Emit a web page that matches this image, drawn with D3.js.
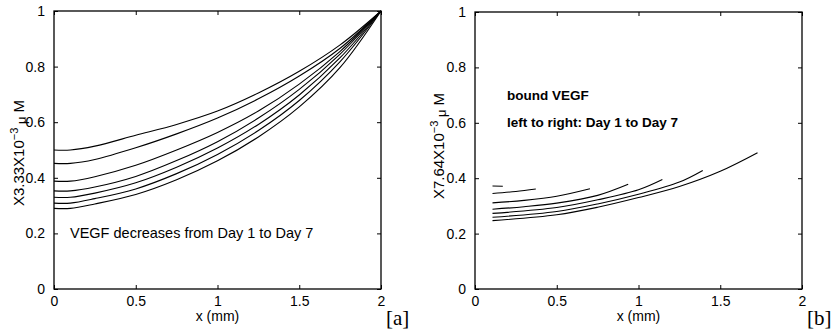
<!DOCTYPE html>
<html>
<head>
<meta charset="utf-8">
<script src="https://cdn.jsdelivr.net/npm/d3@7"></script>
<style>
  body { margin: 0; background: #fff; }
  text { font-family: "Liberation Sans", Arial, sans-serif; fill: #000; }
  .tag { font-family: "Liberation Serif", "DejaVu Serif", serif; }
</style>
</head>
<body>
<div id="chart"></div>
<script>
// ---- data ----
// panel a: free VEGF, Day 1 (top) .. Day 7 (bottom)
var xFree = [0, 0.1, 0.25, 0.5, 0.75, 1, 1.25, 1.5, 1.75, 2];
var freeDay1 = [0.500, 0.500, 0.514, 0.553, 0.592, 0.640, 0.705, 0.783, 0.878, 1];
var freeDay2 = [0.452, 0.452, 0.466, 0.508, 0.558, 0.615, 0.684, 0.766, 0.866, 1];
var freeDay3 = [0.388, 0.388, 0.404, 0.445, 0.500, 0.563, 0.640, 0.737, 0.855, 1];
var freeDay4 = [0.353, 0.353, 0.367, 0.405, 0.462, 0.530, 0.615, 0.718, 0.845, 1];
var freeDay5 = [0.330, 0.330, 0.345, 0.382, 0.438, 0.507, 0.592, 0.698, 0.832, 1];
var freeDay6 = [0.309, 0.309, 0.325, 0.360, 0.415, 0.484, 0.570, 0.678, 0.818, 1];
var freeDay7 = [0.290, 0.290, 0.306, 0.340, 0.393, 0.461, 0.547, 0.655, 0.797, 1];

// panel b: bound VEGF, each day has its own x range
var xBound1 = [0.107, 0.17];
var bound1 = [0.372, 0.371];
var xBound2 = [0.107, 0.25, 0.372];
var bound2 = [0.345, 0.352, 0.361];
var xBound3 = [0.107, 0.3, 0.5, 0.703];
var bound3 = [0.311, 0.320, 0.335, 0.362];
var xBound4 = [0.107, 0.3, 0.5, 0.75, 0.937];
var bound4 = [0.288, 0.297, 0.310, 0.338, 0.378];
var xBound5 = [0.107, 0.5, 0.75, 1, 1.146];
var bound5 = [0.273, 0.294, 0.322, 0.358, 0.395];
var xBound6 = [0.107, 0.5, 0.75, 1, 1.25, 1.393];
var bound6 = [0.259, 0.280, 0.307, 0.342, 0.386, 0.428];
var xBound7 = [0.107, 0.5, 0.75, 1, 1.25, 1.5, 1.728];
var bound7 = [0.247, 0.268, 0.295, 0.330, 0.370, 0.425, 0.492];

var xTicks = [0, 0.5, 1, 1.5, 2];
var yTicks = [0, 0.2, 0.4, 0.6, 0.8, 1];

var width = 832, height = 335;

var svg = d3.select("#chart").append("svg")
  .attr("width", width)
  .attr("height", height);

function zip(xs, ys) {
  return xs.map((x, i) => [x, ys[i]]);
}

function drawPanel(p) {
  var x = d3.scaleLinear().domain([0, 2]).range([p.left, p.right]);
  var y = d3.scaleLinear().domain([0, 1]).range([p.bottom, p.top]);
  var g = svg.append("g");

  // axes, ticks pointing inward, box all round
  g.append("g")
    .attr("class", "axis")
    .attr("transform", "translate(0," + p.bottom + ")")
    .call(d3.axisBottom(x).tickValues(xTicks).tickSizeInner(-4).tickSizeOuter(0)
      .tickPadding(7).tickFormat(d3.format("")));
  g.append("g")
    .attr("class", "axis")
    .attr("transform", "translate(0," + p.top + ")")
    .call(d3.axisTop(x).tickValues(xTicks).tickSizeInner(-4).tickSizeOuter(0).tickFormat(""));
  g.append("g")
    .attr("class", "axis")
    .attr("transform", "translate(" + p.left + ",0)")
    .call(d3.axisLeft(y).tickValues(yTicks).tickSizeInner(-4).tickSizeOuter(0)
      .tickPadding(9).tickFormat(d3.format("")));
  g.append("g")
    .attr("class", "axis")
    .attr("transform", "translate(" + p.right + ",0)")
    .call(d3.axisRight(y).tickValues(yTicks).tickSizeInner(-4).tickSizeOuter(0).tickFormat(""));

  g.selectAll(".axis")
    .attr("font-size", 14)
    .attr("font-family", "Liberation Sans, Arial, sans-serif");
  g.selectAll(".domain").remove();
  g.selectAll(".tick line").attr("stroke", "#000").attr("stroke-width", 1);
  g.selectAll(".tick text").attr("font-size", 14).attr("fill", "#000");

  g.append("rect")
    .attr("x", p.left).attr("y", p.top)
    .attr("width", p.right - p.left).attr("height", p.bottom - p.top)
    .attr("fill", "none").attr("stroke", "#000").attr("stroke-width", 1.3);

  var line = d3.line()
    .x(d => x(d[0]))
    .y(d => y(d[1]))
    .curve(d3.curveCatmullRom.alpha(0.5));

  g.selectAll("path.series")
    .data(p.series)
    .enter()
    .append("path")
    .attr("class", "series")
    .attr("d", line)
    .attr("fill", "none")
    .attr("stroke", "#000")
    .attr("stroke-width", 1.1);

  // x label
  g.append("text")
    .attr("x", (p.left + p.right) / 2)
    .attr("y", 321)
    .attr("text-anchor", "middle")
    .style("font-size", "14px")
    .text("x (mm)");

  // y label, rotated
  var yl = g.append("text")
    .attr("transform", "translate(" + p.ylabX + "," + p.ylabY + ") rotate(-90)")
    .attr("text-anchor", "middle")
    .style("font-size", "15px");
  yl.append("tspan").text(p.ylab);
  yl.append("tspan").attr("dy", -6).style("font-size", "11px").text("\u22123");
  yl.append("tspan").attr("dy", 8).style("font-size", "13px").text(" \u03bc");
  yl.append("tspan").attr("dy", -2).text(" M");

  // panel tag
  g.append("text")
    .attr("class", "tag")
    .attr("x", p.tagX)
    .attr("y", 325)
    .style("font-size", "21px")
    .text(p.tag);

  return { x: x, y: y, g: g };
}

var panelA = drawPanel({
  left: 54, right: 381, top: 11, bottom: 289,
  ylab: "X3.33X10", ylabX: 24, ylabY: 153,
  tag: "[a]", tagX: 386,
  series: [
    zip(xFree, freeDay1), zip(xFree, freeDay2), zip(xFree, freeDay3),
    zip(xFree, freeDay4), zip(xFree, freeDay5), zip(xFree, freeDay6),
    zip(xFree, freeDay7)
  ]
});

panelA.g.append("text")
  .attr("x", 70)
  .attr("y", 238)
  .style("font-size", "14.5px")
  .text("VEGF decreases from Day 1 to Day 7");

var panelB = drawPanel({
  left: 475, right: 802, top: 12, bottom: 289,
  ylab: "X7.64X10", ylabX: 444, ylabY: 146,
  tag: "[b]", tagX: 807,
  series: [
    zip(xBound1, bound1), zip(xBound2, bound2), zip(xBound3, bound3),
    zip(xBound4, bound4), zip(xBound5, bound5), zip(xBound6, bound6),
    zip(xBound7, bound7)
  ]
});

panelB.g.append("text")
  .attr("x", 507)
  .attr("y", 100)
  .style("font-size", "13.5px")
  .style("font-weight", "bold")
  .text("bound VEGF");

panelB.g.append("text")
  .attr("x", 507)
  .attr("y", 127)
  .style("font-size", "13.5px")
  .style("font-weight", "bold")
  .text("left to right: Day 1 to Day 7");
</script>
</body>
</html>
